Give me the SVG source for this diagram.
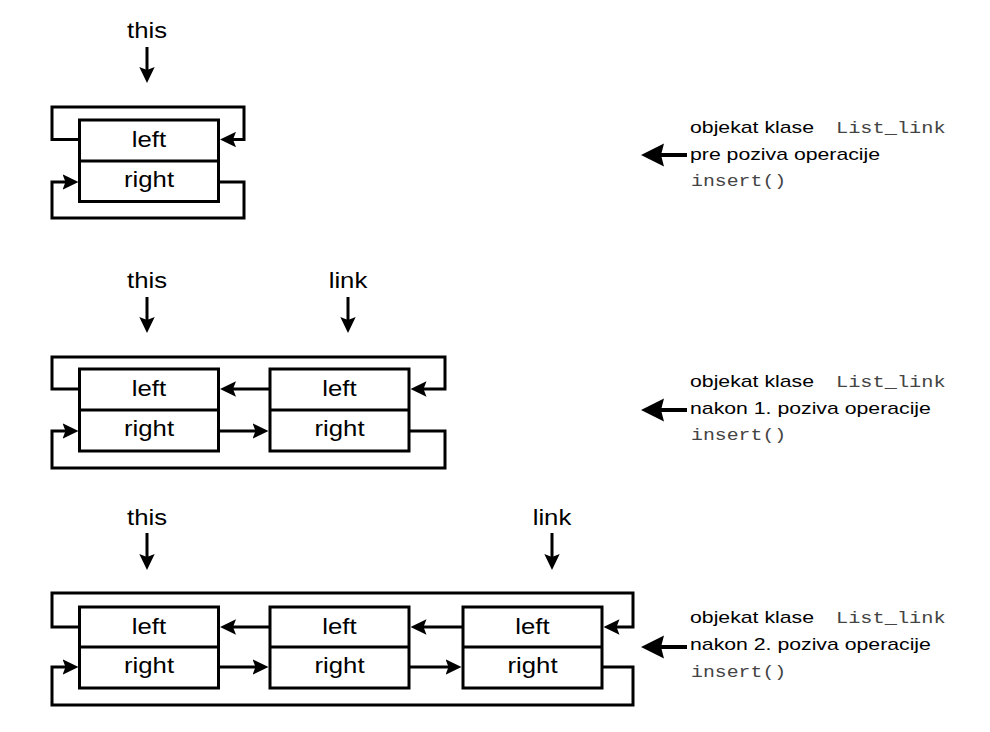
<svg xmlns="http://www.w3.org/2000/svg" width="990" height="732" viewBox="0 0 990 732">
<style>
.bg{fill:#fff}
.box{fill:#fff;stroke:#000;stroke-width:3}
.ln{fill:none;stroke:#000;stroke-width:3;stroke-linejoin:miter}
.arr{fill:none;stroke:#000;stroke-width:3;marker-end:url(#ah)}
.big{fill:none;stroke:#000;stroke-width:4;marker-end:url(#bah)}
.lbl{font-family:"Liberation Sans",Arial,sans-serif;font-size:23px;fill:#000;text-anchor:middle}
.desc{font-family:"Liberation Sans",Arial,sans-serif;font-size:17px;fill:#000}
.mono{font-family:"Liberation Mono","Courier New",monospace;font-size:16px;fill:#444}
</style>
<defs>
<marker id="ah" viewBox="0 0 16 16" refX="6" refY="8" markerWidth="16" markerHeight="16" orient="auto" markerUnits="userSpaceOnUse">
<path d="M0,0.3 L16,8 L0,15.7 L3,8 Z" fill="#000"/>
</marker>
<marker id="bah" viewBox="0 0 23 24" refX="8" refY="12" markerWidth="23" markerHeight="24" orient="auto" markerUnits="userSpaceOnUse">
<path d="M0,0.5 L23,12 L0,23.5 L3,12 Z" fill="#000"/>
</marker>
</defs>
<rect class="bg" x="0" y="0" width="990" height="732"/>

<!-- Connectors -->
<g id="connectors">
  <!-- section 1 -->
  <path class="arr" d="M147,47 L147,73"/>
  <path class="arr" d="M80,139.5 L52,139.5 L52,107 L244,107 L244,139.5 L230,139.5"/>
  <path class="arr" d="M218,182 L244,182 L244,218 L52,218 L52,182 L68.5,182"/>
  <path class="big" d="M687,155 L656,155"/>

  <!-- section 2 -->
  <path class="arr" d="M147,297 L147,323"/>
  <path class="arr" d="M348,297 L348,323"/>
  <path class="arr" d="M80,389 L52,389 L52,357 L445,357 L445,389 L420.5,389"/>
  <path class="arr" d="M270,389 L230,389"/>
  <path class="arr" d="M218,431 L258.5,431"/>
  <path class="arr" d="M409,431 L445,431 L445,468 L52,468 L52,431 L68.5,431"/>
  <path class="big" d="M687,410 L656,410"/>

  <!-- section 3 -->
  <path class="arr" d="M147,533 L147,560"/>
  <path class="arr" d="M552,533 L552,560"/>
  <path class="arr" d="M80,627 L52,627 L52,593 L633,593 L633,627 L613.5,627"/>
  <path class="arr" d="M270,627 L230,627"/>
  <path class="arr" d="M463,627 L420.5,627"/>
  <path class="arr" d="M218,667 L258.5,667"/>
  <path class="arr" d="M409,667 L451.5,667"/>
  <path class="arr" d="M602,667 L633,667 L633,705 L52,705 L52,667 L68.5,667"/>
  <path class="big" d="M687,647 L656,647"/>
</g>

<!-- Section 1 -->
<g id="s1-this"><text class="lbl" transform="translate(147 38) scale(1.12 1)">this</text></g>
<g id="s1-node1">
  <rect class="box" x="79.5" y="120" width="139" height="81.5"/>
  <line class="ln" x1="79.5" y1="161" x2="218.5" y2="161"/>
  <text class="lbl" transform="translate(149 147) scale(1.12 1)">left</text>
  <text class="lbl" transform="translate(149 186.5) scale(1.12 1)">right</text>
</g>
<g id="s1-desc">
  <text class="desc" transform="translate(690 133) scale(1.25 1)">objekat klase</text>
  <text class="mono" transform="translate(836 133) scale(1.27 1)">List_link</text>
  <text class="desc" transform="translate(690 159.5) scale(1.25 1)">pre poziva operacije</text>
  <text class="mono" transform="translate(691 186) scale(1.24 1)">insert()</text>
</g>

<!-- Section 2 -->
<g id="s2-this"><text class="lbl" transform="translate(147 288) scale(1.12 1)">this</text></g>
<g id="s2-link"><text class="lbl" transform="translate(348 288) scale(1.12 1)">link</text></g>
<g id="s2-node1">
  <rect class="box" x="79.5" y="369" width="139" height="82"/>
  <line class="ln" x1="79.5" y1="410" x2="218.5" y2="410"/>
  <text class="lbl" transform="translate(149 396) scale(1.12 1)">left</text>
  <text class="lbl" transform="translate(149 435.5) scale(1.12 1)">right</text>
</g>
<g id="s2-node2">
  <rect class="box" x="270" y="369" width="139" height="82"/>
  <line class="ln" x1="270" y1="410" x2="409" y2="410"/>
  <text class="lbl" transform="translate(339.5 396) scale(1.12 1)">left</text>
  <text class="lbl" transform="translate(339.5 435.5) scale(1.12 1)">right</text>
</g>
<g id="s2-desc">
  <text class="desc" transform="translate(690 386.5) scale(1.25 1)">objekat klase</text>
  <text class="mono" transform="translate(836 386.5) scale(1.27 1)">List_link</text>
  <text class="desc" transform="translate(690 413.5) scale(1.25 1)">nakon 1. poziva operacije</text>
  <text class="mono" transform="translate(691 440) scale(1.24 1)">insert()</text>
</g>

<!-- Section 3 -->
<g id="s3-this"><text class="lbl" transform="translate(147 525) scale(1.12 1)">this</text></g>
<g id="s3-link"><text class="lbl" transform="translate(552 525) scale(1.12 1)">link</text></g>
<g id="s3-node1">
  <rect class="box" x="79.5" y="607" width="139" height="81"/>
  <line class="ln" x1="79.5" y1="647" x2="218.5" y2="647"/>
  <text class="lbl" transform="translate(149 634) scale(1.12 1)">left</text>
  <text class="lbl" transform="translate(149 673) scale(1.12 1)">right</text>
</g>
<g id="s3-node2">
  <rect class="box" x="270" y="607" width="139" height="81"/>
  <line class="ln" x1="270" y1="647" x2="409" y2="647"/>
  <text class="lbl" transform="translate(339.5 634) scale(1.12 1)">left</text>
  <text class="lbl" transform="translate(339.5 673) scale(1.12 1)">right</text>
</g>
<g id="s3-node3">
  <rect class="box" x="463" y="607" width="139" height="81"/>
  <line class="ln" x1="463" y1="647" x2="602" y2="647"/>
  <text class="lbl" transform="translate(532.5 634) scale(1.12 1)">left</text>
  <text class="lbl" transform="translate(532.5 673) scale(1.12 1)">right</text>
</g>
<g id="s3-desc">
  <text class="desc" transform="translate(690 623) scale(1.25 1)">objekat klase</text>
  <text class="mono" transform="translate(836 623) scale(1.27 1)">List_link</text>
  <text class="desc" transform="translate(690 650) scale(1.25 1)">nakon 2. poziva operacije</text>
  <text class="mono" transform="translate(691 676.5) scale(1.24 1)">insert()</text>
</g>
</svg>
